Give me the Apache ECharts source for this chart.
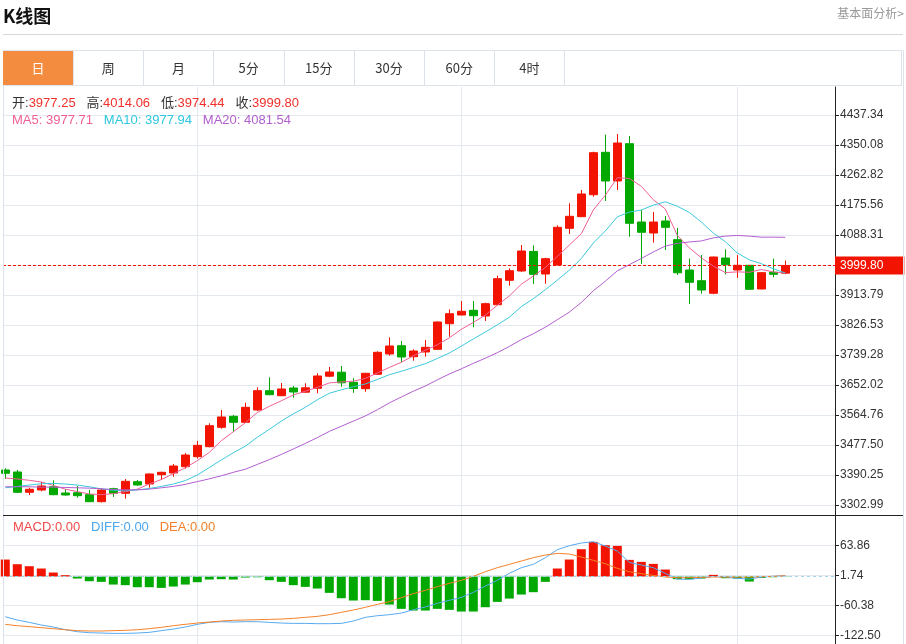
<!DOCTYPE html>
<html>
<head>
<meta charset="utf-8">
<title>K线图</title>
<script src="https://cdn.jsdelivr.net/npm/echarts@6.0.0/dist/echarts.min.js"></script>
<style>
	body { margin: 0; background: #fff; font-family: "Liberation Sans", "Noto Sans CJK SC", sans-serif; }
	.abs { position: absolute; }
	#chartmain { position: absolute; left: 0; top: 0; width: 906px; height: 644px; }
	.title { left: 3px; top: 3px; font-size: 18px; font-weight: bold; color: #111; line-height: 24px; font-family: "Noto Sans CJK SC", sans-serif; }
	.more { right: 2px; top: 5px; font-size: 12px; color: #999; line-height: 16px; font-family: "Noto Sans CJK SC", sans-serif; }
	.hr { left: 3px; top: 34px; width: 900px; height: 1px; background: #d6d6d6; }
	.box { left: 3px; top: 50px; width: 899px; height: 600px; border-left: 1px solid #dde3ea; border-right: 1px solid #dde3ea; }
	.tabbar { left: 3px; top: 50px; width: 899px; height: 36px; border: 1px solid #dde3ea; box-sizing: border-box; }
	.tab { top: 51px; height: 34px; width: 70px; border-right: 1px solid #dde3ea; font-size: 13px; line-height: 34px; text-align: center; color: #333; font-family: "Noto Sans CJK SC", sans-serif; }
	.tab.on { background: #f48c3f; color: #fff; }
	.info { left: 12px; font-size: 13px; line-height: 16px; white-space: pre; }
	.sep { left: 3px; top: 515px; width: 900px; height: 1px; background: #222; }
</style>
</head>
<body>
<div id="chartmain"></div>
<div class="abs title">K线图</div>
<div class="abs more">基本面分析&gt;</div>
<div class="abs hr"></div>
<div class="abs box"></div>
<div class="abs tabbar"></div>
<div id="tabs"></div>
<div class="abs info" style="top:95px"><span style="color:#333">开:</span><span style="color:#f0302a">3977.25</span>   <span style="color:#333">高:</span><span style="color:#f0302a">4014.06</span>   <span style="color:#333">低:</span><span style="color:#f0302a">3974.44</span>   <span style="color:#333">收:</span><span style="color:#f0302a">3999.80</span></div>
<div class="abs info" style="top:112px"><span style="color:#ef5f96">MA5: 3977.71</span>   <span style="color:#2ec7e0">MA10: 3977.94</span>   <span style="color:#b25ecf">MA20: 4081.54</span></div>
<div class="abs sep"></div>
<div class="abs info" style="top:519px;left:13px"><span style="color:#f04a4a">MACD:0.00</span>   <span style="color:#4ba8f0">DIFF:0.00</span>   <span style="color:#f5802a">DEA:0.00</span></div>
<script>
// 周期标签
var tabNames = ['日', '周', '月', '5分', '15分', '30分', '60分', '4时'];

// 日K数据
var opens = [3404.8, 3399.0, 3339.9, 3346.6, 3356.2, 3337.9, 3338.8, 3333.0, 3312.6, 3350.4,
	3337.0, 3370.8, 3364.1, 3391.1, 3396.1, 3414.4, 3443.5, 3472.6, 3529.0, 3561.0,
	3543.5, 3579.3, 3635.5, 3620.9, 3643.3, 3631.1, 3642.4, 3677.6, 3689.3, 3659.9,
	3641.3, 3683.2, 3742.2, 3766.3, 3734.3, 3748.0, 3755.9, 3830.3, 3855.6, 3869.3,
	3852.7, 3885.6, 3956.6, 3983.6, 4040.5, 3974.9, 4001.1, 4107.8, 4141.6, 4205.5,
	4328.9, 4245.4, 4353.9, 4126.1, 4094.1, 4129.0, 4074.7, 3986.5, 3955.4, 3918.8,
	4021.4, 3986.5, 4000.2, 3931.3, 3979.8, 3977.25];
var closes = [3395.2, 3339.9, 3348.7, 3358.3, 3333.0, 3332.1, 3330.1, 3312.6, 3346.6, 3337.0,
	3371.9, 3361.2, 3393.2, 3398.1, 3416.4, 3448.4, 3476.6, 3533.7, 3559.0, 3543.5,
	3587.2, 3635.5, 3623.8, 3640.4, 3631.7, 3643.9, 3678.2, 3689.8, 3658.4, 3641.9,
	3686.1, 3747.1, 3765.5, 3733.5, 3750.9, 3761.7, 3835.3, 3859.4, 3866.4, 3853.6,
	3888.5, 3961.2, 3984.5, 4041.8, 3974.0, 4019.4, 4110.7, 4142.7, 4207.6, 4327.7,
	4245.4, 4355.9, 4122.4, 4096.2, 4126.1, 4110.7, 3978.4, 3950.7, 3928.3, 4024.3,
	4001.9, 4000.2, 3930.4, 3978.7, 3974.0, 3999.80];
var lows = [3378.6, 3337.9, 3332.1, 3342.8, 3331.2, 3330.1, 3324.2, 3311.6, 3310.5, 3326.3,
	3321.3, 3359.1, 3353.3, 3375.7, 3385.3, 3408.6, 3437.7, 3470.8, 3524.9, 3516.2,
	3542.4, 3576.4, 3622.5, 3619.5, 3615.1, 3630.5, 3627.9, 3674.7, 3647.1, 3629.3,
	3632.3, 3682.0, 3737.3, 3718.1, 3722.7, 3734.3, 3755.3, 3792.5, 3855.0, 3819.9,
	3838.2, 3884.5, 3940.9, 3981.0, 3945.8, 3946.7, 4000.5, 4091.2, 4140.5, 4199.7,
	4187.2, 4219.2, 4083.4, 4004.0, 4065.9, 4044.7, 3972.0, 3887.6, 3917.6, 3916.0,
	3974.0, 3963.3, 3929.5, 3930.5, 3965.3, 3974.44];
var highs = [3409.7, 3404.8, 3353.3, 3369.9, 3374.8, 3348.7, 3358.3, 3346.6, 3351.6, 3353.3,
	3378.6, 3375.7, 3394.5, 3399.9, 3422.3, 3454.2, 3489.2, 3540.6, 3579.3, 3564.8,
	3600.6, 3645.3, 3674.4, 3657.8, 3649.1, 3657.0, 3686.1, 3704.4, 3707.3, 3671.8,
	3687.0, 3750.0, 3790.8, 3780.0, 3755.9, 3782.9, 3836.7, 3872.2, 3896.4, 3896.4,
	3891.4, 3969.9, 3991.5, 4059.2, 4058.0, 4022.0, 4116.5, 4180.5, 4219.2, 4330.6,
	4380.1, 4382.1, 4376.3, 4161.0, 4155.2, 4143.6, 4108.7, 4020.0, 4030.2, 4025.0,
	4046.7, 4030.2, 4001.0, 3979.5, 4019.4, 4014.06];

// 均线
var ma5 = [3381.5, 3378.6, 3374.8, 3369.9, 3360, 3349, 3342, 3335, 3333, 3336,
	3342, 3349, 3364, 3377, 3394, 3411, 3432, 3456, 3490, 3516,
	3542, 3572, 3590, 3606, 3623, 3634, 3645, 3658, 3661, 3663,
	3671, 3687, 3703, 3718, 3737, 3753, 3769, 3789, 3814, 3834,
	3855, 3884, 3911, 3945, 3969, 3994, 4026, 4059, 4092, 4161,
	4204, 4255, 4253, 4230, 4191, 4164, 4087, 4051, 4022, 3998,
	3979, 3981, 3980, 3988, 3981, 3977.71];
var ma10 = [3353, 3357, 3361, 3365, 3366, 3364, 3361, 3356, 3350, 3346,
	3344, 3347, 3351, 3357, 3364, 3374, 3390, 3412, 3434, 3455,
	3474, 3500, 3523, 3547, 3568, 3587, 3609, 3628, 3638, 3647,
	3655, 3668, 3682, 3692, 3703, 3714, 3729, 3745, 3765, 3786,
	3806, 3827, 3849, 3880, 3903, 3929, 3957, 3986, 4020, 4065,
	4100, 4141, 4155, 4161, 4175, 4185, 4172, 4154, 4126, 4094,
	4069, 4036, 4016, 4005, 3990, 3977.94];
var ma20 = [3356, 3356, 3356, 3355, 3355, 3354, 3353, 3352, 3350, 3348,
	3347, 3347, 3349, 3353, 3357, 3363, 3371, 3379, 3388, 3398,
	3407, 3421, 3435, 3450, 3466, 3482, 3499, 3517, 3532, 3547,
	3562, 3580, 3600, 3617, 3634, 3649, 3667, 3684, 3699, 3715,
	3730, 3746, 3764, 3784, 3801, 3820, 3842, 3864, 3892, 3926,
	3954, 3984, 4002, 4020, 4039, 4056, 4064, 4068, 4071, 4080,
	4085, 4087, 4085, 4082, 4082, 4081.54];

// MACD
var macdHist = [35.2, 25.5, 21.4, 16.6, 8.3, 2.8, -4.1, -9.7, -11.0, -16.6,
	-17.9, -22.1, -22.1, -23.5, -20.7, -16.6, -11.7, -6.2, -5.5, -6.2,
	-2.1, -1.5, -7.6, -11.0, -17.9, -21.4, -24.8, -33.8, -44.9, -49.7,
	-49.0, -50.4, -58.0, -66.9, -70.4, -70.4, -66.9, -69.0, -72.5, -72.5,
	-63.5, -52.5, -45.6, -37.3, -32.4, -11.0, 16.6, 35.2, 56.6, 71.8,
	64.9, 63.5, 34.5, 30.4, 26.2, 14.5, -5.5, -5.5, -4.1, 3.5,
	-3.5, -4.1, -10.4, -2.8, -1.4, -0.5];
var diff = [-83.2, -90.0, -94.9, -100.4, -104.5, -110.1, -114.2, -116.3, -117.0, -117.7,
	-117.7, -117.0, -115.6, -112.1, -108.7, -104.5, -99.0, -94.9, -93.5, -94.2,
	-93.5, -93.5, -94.9, -96.3, -97.0, -97.0, -97.6, -97.6, -97.0, -92.1,
	-84.5, -81.1, -79.0, -75.6, -68.7, -63.1, -55.5, -49.3, -43.1, -32.8,
	-19.7, -7.9, 6.6, 18.3, 25.2, 39.0, 55.6, 63.9, 69.4, 72.1,
	63.2, 52.8, 29.3, 23.8, 18.3, 6.6, -5.2, -5.9, -3.1, 0.4,
	-1.0, -3.8, -5.2, -1.0, 0.4, 1.7];
var dea = [-99.0, -101.8, -103.8, -105.9, -108.0, -110.1, -112.1, -112.8, -112.8, -112.1,
	-111.4, -110.1, -108.0, -105.2, -101.8, -99.0, -96.3, -94.2, -92.1, -90.7,
	-90.0, -89.4, -88.7, -88.0, -86.6, -84.5, -82.5, -79.0, -74.2, -69.3,
	-63.8, -57.6, -52.1, -43.8, -35.5, -28.6, -21.0, -14.1, -7.9, 0.4,
	10.0, 18.3, 25.2, 32.1, 39.0, 44.5, 48.0, 46.6, 40.4, 33.5,
	26.6, 16.9, 10.0, 5.9, 2.4, -1.0, -2.4, -2.4, -1.7, -1.0,
	-1.0, -1.0, -1.0, -0.3, 0.4, 1.7];

// 坐标刻度
var priceTicks = [3302.99, 3390.25, 3477.50, 3564.76, 3652.02, 3739.28, 3826.53,
	3913.79, 4001.05, 4088.31, 4175.56, 4262.82, 4350.08, 4437.34];
var macdTicks = [-122.50, -60.38, 1.74, 63.86];
var monthTicks = [16, 38, 61];

// 周期按钮
var tabHtml = '';
for (var t = 0; t < tabNames.length; t++) {
	tabHtml += '<div class="abs tab' + (t === 0 ? ' on' : '') + '" style="left:' + (3 + t * 70.2).toFixed(1) + 'px">' + tabNames[t] + '</div>';
}
document.getElementById('tabs').innerHTML = tabHtml;

var RED = '#f21400', GREEN = '#00a800', GRID = '#e4e9ef';

var kData = [], ma5Data = [], ma10Data = [], ma20Data = [], histData = [], diffData = [], deaData = [];
for (var i = 0; i < closes.length; i++) {
	kData.push([i, opens[i], closes[i], lows[i], highs[i]]);
	ma5Data.push([i, ma5[i]]);
	ma10Data.push([i, ma10[i]]);
	ma20Data.push([i, ma20[i]]);
	histData.push([i, macdHist[i]]);
	diffData.push([i, diff[i]]);
	deaData.push([i, dea[i]]);
}
var lastClose = closes[closes.length - 1];

function xAxisOf(idx) {
	return {
		type : 'value',
		gridIndex : idx,
		min : -0.19,
		max : 69.14,
		axisLine : { show : false, onZero : false },
		axisTick : { show : false, customValues : monthTicks },
		axisLabel : { show : false },
		splitLine : { show : true, lineStyle : { color : GRID } }
	};
}

function yAxisOf(idx, min, max, ticks) {
	return {
		type : 'value',
		gridIndex : idx,
		position : 'right',
		min : min,
		max : max,
		axisLine : { show : true, onZero : false, lineStyle : { color : '#222' } },
		axisTick : { show : true, length : 4, customValues : ticks, lineStyle : { color : '#222' } },
		axisLabel : {
			customValues : ticks,
			margin : 5,
			color : '#333',
			fontSize : 12,
			fontFamily : 'Liberation Sans',
			formatter : function(v) { return Number(v).toFixed(2); }
		},
		splitLine : { show : true, lineStyle : { color : GRID } }
	};
}

function lineOf(name, data, color, xi) {
	return {
		name : name,
		type : 'line',
		xAxisIndex : xi,
		yAxisIndex : xi,
		data : data,
		showSymbol : false,
		symbol : 'none',
		lineStyle : { width : 1, color : color },
		z : 3
	};
}

var option = {
	animation : false,
	grid : [
		{ left : 3, right : 71, top : 87, height : 428 },
		{ left : 3, right : 71, top : 515, height : 129 }
	],
	xAxis : [ xAxisOf(0), xAxisOf(1) ],
	yAxis : [
		yAxisOf(0, 3273.90, 4518.78, priceTicks),
		yAxisOf(1, -139.69, 127.43, macdTicks)
	],
	series : [ {
		type : 'candlestick',
		xAxisIndex : 0,
		yAxisIndex : 0,
		data : kData,
		encode : { x : 0, y : [ 1, 2, 3, 4 ] },
		barWidth : 9,
		itemStyle : {
			color : RED,
			color0 : GREEN,
			borderColor : RED,
			borderColor0 : GREEN,
			borderWidth : 1
		},
		markLine : {
			silent : true,
			symbol : [ 'none', 'none' ],
			data : [ { yAxis : lastClose } ],
			lineStyle : { color : RED, type : [ 3, 2 ], width : 1 },
			label : {
				position : 'end',
				distance : 0,
				formatter : lastClose.toFixed(2),
				backgroundColor : RED,
				color : '#fff',
				fontSize : 12,
				fontFamily : 'Liberation Sans',
				lineHeight : 14,
				padding : [ 2, 21, 2, 5 ]
			}
		}
	},
		lineOf('MA5', ma5Data, '#ef5f96', 0),
		lineOf('MA10', ma10Data, '#3cc8dc', 0),
		lineOf('MA20', ma20Data, '#b25ecf', 0),
	{
		name : 'MACD',
		type : 'bar',
		xAxisIndex : 1,
		yAxisIndex : 1,
		data : histData,
		barWidth : 9,
		itemStyle : {
			color : function(p) { return p.value[1] >= 0 ? RED : GREEN; }
		},
		markLine : {
			silent : true,
			symbol : [ 'none', 'none' ],
			data : [ { yAxis : 0 } ],
			lineStyle : { color : '#a5d4ec', type : [ 3, 3 ], width : 1 },
			label : { show : false }
		}
	},
		lineOf('DIFF', diffData, '#56aaf0', 1),
		lineOf('DEA', deaData, '#f5802a', 1)
	]
};

// 初始化echarts实例
var myChart = echarts.init(document.getElementById('chartmain'));
myChart.setOption(option);
</script>
</body>
</html>
